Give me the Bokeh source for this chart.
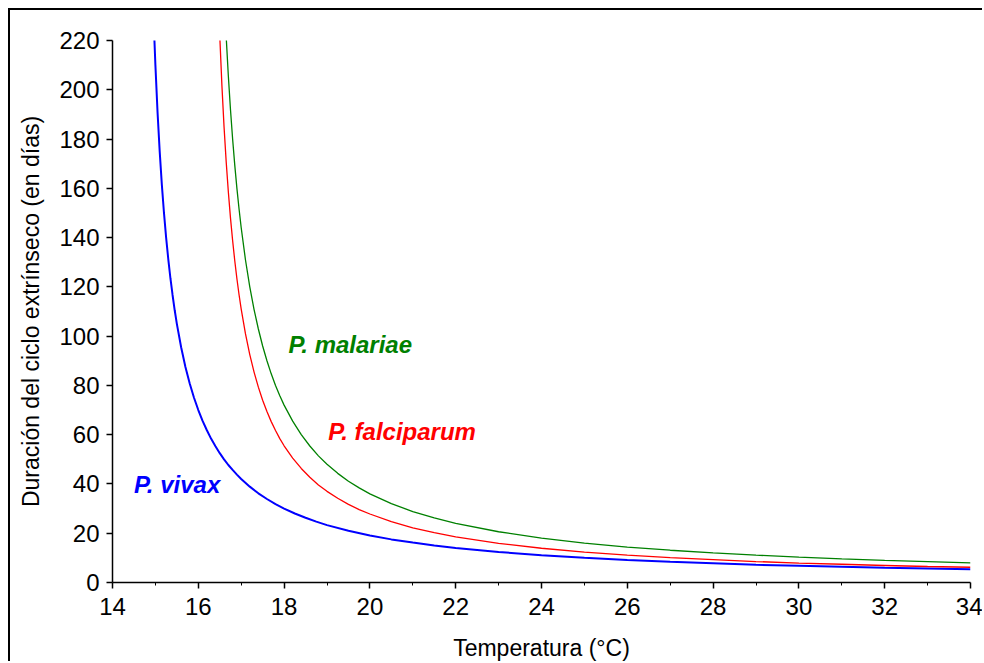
from bokeh.plotting import figure
from bokeh.models import Range1d, FixedTicker, Label
from bokeh.embed import file_html
from bokeh.resources import INLINE

# --- data (days of the extrinsic cycle vs temperature) ---
vivax_t = [14.97, 15.0, 15.05, 15.1, 15.15, 15.2, 15.25, 15.3, 15.35, 15.4, 15.45, 15.5, 15.6, 15.7,
           15.8, 15.9, 16.0, 16.1, 16.2, 16.3, 16.4, 16.5, 16.6, 16.7, 16.8, 16.9, 17.0, 17.2, 17.4,
           17.6, 17.8, 18.0, 18.25, 18.5, 18.75, 19.0, 19.5, 20.0, 20.5, 21.0, 21.5, 22.0, 23.0,
           24.0, 25.0, 26.0, 27.0, 28.0, 29.0, 30.0, 31.0, 32.0, 33.0, 34.0]
vivax_d = [223.4, 210.0, 190.9, 175.0, 161.5, 150.0, 140.0, 131.3, 123.5, 116.7, 110.5, 105.0, 95.5, 87.5,
           80.8, 75.0, 70.0, 65.6, 61.8, 58.3, 55.3, 52.5, 50.0, 47.7, 45.7, 43.8, 42.0, 38.9, 36.2,
           33.9, 31.8, 30.0, 28.0, 26.3, 24.7, 23.3, 21.0, 19.1, 17.5, 16.2, 15.0, 14.0, 12.4,
           11.1, 10.0, 9.1, 8.4, 7.8, 7.2, 6.8, 6.4, 6.0, 5.7, 5.4]

falc_t = [16.5, 16.55, 16.6, 16.65, 16.7, 16.75, 16.8, 16.85, 16.9, 16.95, 17.0, 17.1, 17.2, 17.3, 17.4,
          17.5, 17.6, 17.7, 17.8, 17.9, 18.0, 18.2, 18.4, 18.6, 18.8, 19.0, 19.25, 19.5, 19.75, 20.0,
          20.5, 21.0, 21.5, 22.0, 23.0, 24.0, 25.0, 26.0, 27.0, 28.0, 29.0, 30.0, 31.0, 32.0, 33.0, 34.0]
falc_d = [222.0, 201.8, 185.0, 170.8, 158.6, 148.0, 138.8, 130.6, 123.3, 116.8, 111.0, 100.9, 92.5, 85.4, 79.3,
          74.0, 69.4, 65.3, 61.7, 58.4, 55.5, 50.5, 46.3, 42.7, 39.6, 37.0, 34.2, 31.7, 29.6, 27.8,
          24.7, 22.2, 20.2, 18.5, 15.9, 13.9, 12.3, 11.1, 10.1, 9.3, 8.5, 7.9, 7.4, 6.9, 6.5, 6.2]

mal_t = [16.65, 16.7, 16.75, 16.8, 16.85, 16.9, 16.95, 17.0, 17.1, 17.2, 17.3, 17.4, 17.5, 17.6, 17.7,
         17.8, 17.9, 18.0, 18.2, 18.4, 18.6, 18.8, 19.0, 19.25, 19.5, 19.75, 20.0, 20.5, 21.0, 21.5,
         22.0, 23.0, 24.0, 25.0, 26.0, 27.0, 28.0, 29.0, 30.0, 31.0, 32.0, 33.0, 34.0]
mal_d = [221.5, 205.7, 192.0, 180.0, 169.4, 160.0, 151.6, 144.0, 130.9, 120.0, 110.8, 102.9, 96.0, 90.0, 84.7,
         80.0, 75.8, 72.0, 65.5, 60.0, 55.4, 51.4, 48.0, 44.3, 41.1, 38.4, 36.0, 32.0, 28.8, 26.2,
         24.0, 20.6, 18.0, 16.0, 14.4, 13.1, 12.0, 11.1, 10.3, 9.6, 9.0, 8.5, 8.0]

x_ticks = [14, 16, 18, 20, 22, 24, 26, 28, 30, 32, 34]
x_minor = [15, 17, 19, 21, 23, 25, 27, 29, 31, 33]
y_ticks = [0, 20, 40, 60, 80, 100, 120, 140, 160, 180, 200, 220]

labels = ["P. malariae", "P. falciparum", "P. vivax"]
label_x = [18.1, 19.03, 14.5]
label_y = [96.5, 61.3, 39.8]
label_colors = ["#008000", "#FF0000", "#0000FF"]

FONT = "Liberation Sans"

p = figure(width=974, height=653, output_backend="svg", toolbar_location=None,
           x_range=Range1d(14, 34), y_range=Range1d(0, 220),
           min_border_left=102, min_border_top=30, min_border_right=14, min_border_bottom=81,
           background_fill_color="white", border_fill_color="white")
p.styles = {"border-top": "2px solid black", "border-left": "2px solid black",
            "border-right": "none", "border-bottom": "none",
            "margin-left": "8px", "margin-top": "8px"}
p.outline_line_color = None
p.grid.visible = False

p.line(vivax_t, vivax_d, line_color="#0000FF", line_width=2)
p.line(falc_t, falc_d, line_color="#FF0000", line_width=1.3)
p.line(mal_t, mal_d, line_color="#008000", line_width=1.3)

for txt, lx, ly, c in zip(labels, label_x, label_y, label_colors):
    p.add_layout(Label(x=lx, y=ly, text=txt, text_color=c, text_font=FONT,
                       text_font_size="24px", text_font_style="bold italic",
                       text_baseline="middle", text_align="left"))

xa = p.xaxis[0]
xa.ticker = FixedTicker(ticks=x_ticks, minor_ticks=x_minor)
xa.axis_label = "Temperatura (°C)"
ya = p.yaxis[0]
ya.ticker = FixedTicker(ticks=y_ticks)
ya.axis_label = "Duración del ciclo extrínseco (en días)"

for ax in (xa, ya):
    ax.axis_line_color = "black"
    ax.axis_line_width = 1.5
    ax.major_tick_line_color = "black"
    ax.major_tick_line_width = 1.5
    ax.major_tick_in = 0
    ax.major_tick_out = 6
    ax.minor_tick_in = 0
    ax.minor_tick_out = 3
    ax.minor_tick_line_color = "black"
    ax.major_label_text_font = FONT
    ax.major_label_text_font_size = "24px"
    ax.major_label_text_color = "black"
    ax.axis_label_text_font = FONT
    ax.axis_label_text_font_size = "23px"
    ax.axis_label_text_font_style = "normal"
    ax.axis_label_text_color = "black"

ya.minor_tick_line_color = None
xa.major_label_standoff = 9
xa.axis_label_standoff = 17
ya.major_label_standoff = 7
ya.axis_label_standoff = 12

open("out.html", "w").write(file_html(p, INLINE))
